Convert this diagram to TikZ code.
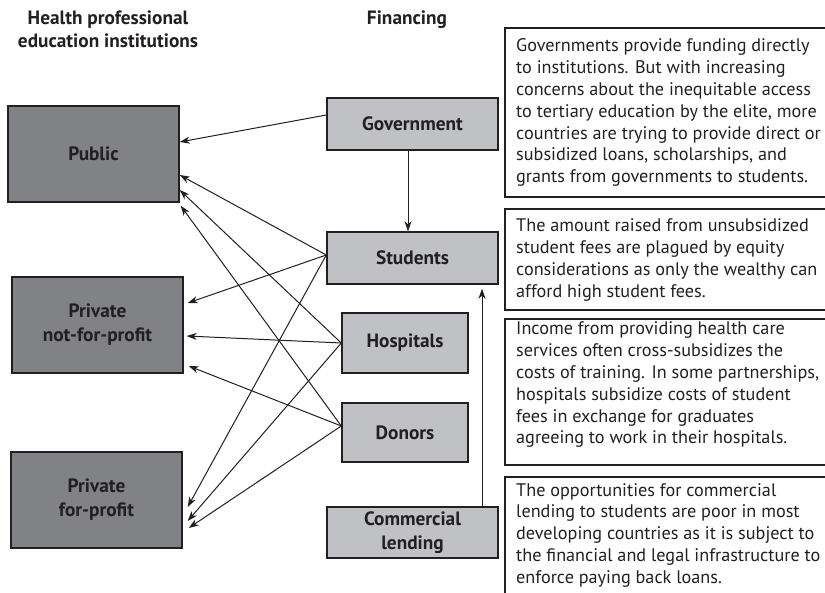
\documentclass[tikz,border=0pt]{standalone}
\usepackage{fontspec}
\setmainfont{PT Sans}
\usetikzlibrary{arrows.meta}
\definecolor{ink}{RGB}{35,31,32}
\definecolor{darkbox}{RGB}{128,130,133}
\definecolor{lightbox}{RGB}{192,193,196}
\begin{document}
\begin{tikzpicture}[x=1pt,y=-1pt,
  lab/.style={font=\fontsize{19.3}{24}\selectfont\bfseries, text=ink, align=center, inner sep=0pt},
  inst/.style={lab, draw=ink, line width=1.4pt, fill=darkbox, minimum width=171pt, minimum height=96pt},
  fin/.style={lab, draw=ink, line width=1.4pt, fill=lightbox, minimum width=171pt, minimum height=52pt},
  finsmall/.style={fin, minimum width=126pt, minimum height=60pt},
  head/.style={font=\fontsize{19.3}{23}\selectfont\bfseries, text=ink, align=center, inner sep=0pt, anchor=base},
  note/.style={font=\fontsize{18.2}{21.8}\selectfont, text=ink, align=left, anchor=base west, inner sep=0pt},
  frame/.style={draw=ink, line width=1.1pt},
  arr/.style={draw=ink, line width=1pt, -{Stealth[length=10pt,width=7pt,inset=3pt]}},
]
\useasboundingbox (0,0) rectangle (825,593);

% headers (anchor = baseline of last line)
\node[head] (h1) at (108,48) {Health professional\\education institutions};
\node[head] (h2) at (407,25) {Financing};

% institutions
\node[inst] (pub) at (93.5,154) {Public};
\node[inst] (pnfp) at (97.5,325) {Private\\not-for-profit};
\node[inst] (pfp) at (96.5,500) {Private\\for-profit};

% financing
\node[fin] (gov) at (412.5,124) {Government};
\node[fin] (stud) at (412.5,258) {Students};
\node[finsmall] (hosp) at (405,343) {Hospitals};
\node[finsmall, minimum height=59pt] (don) at (405,432.5) {Donors};
\node[fin, minimum height=51pt] (comm) at (412.5,532.5) {Commercial\\lending};

% arrows
\draw[arr] ([yshift=9pt]gov.west) -- ([yshift=12pt]pub.east);
\draw[arr] ([xshift=-4.5pt]gov.south) -- ([xshift=-4.5pt]stud.north);
\draw[arr] ([yshift=3pt]stud.west) -- ([yshift=-21pt]pub.east);
\draw[arr] ([yshift=3pt]stud.west) -- ([shift={(4pt,22pt)}]pnfp.east);
\draw[arr] ([yshift=3pt]stud.west) -- ([shift={(5pt,-7pt)}]pfp.east);
\draw[arr] (hosp.west) -- ([yshift=-36pt]pub.east);
\draw[arr] (hosp.west) -- ([shift={(3pt,-11pt)}]pnfp.east);
\draw[arr] (hosp.west) -- ([shift={(5pt,-21pt)}]pfp.east);
\draw[arr] ([yshift=6.5pt]don.west) -- ([shift={(1pt,-3pt)}]pub.south east);
\draw[arr] ([yshift=6.5pt]don.west) -- ([shift={(5pt,-41pt)}]pnfp.east);
\draw[arr] ([yshift=6.5pt]don.west) -- ([shift={(6pt,-28pt)}]pfp.east);
\draw[arr, shorten >=4pt] ([xshift=69.5pt]comm.north) -- ([xshift=69.5pt]stud.south);

% note frames
\draw[frame] (835,28) -- (505,28) -- (505,197) -- (835,197);
\draw[frame] (835,209) -- (505,209) -- (505,310) -- (835,310);
\draw[frame] (835,319) -- (505,319) -- (505,465) -- (835,465);
\draw[frame] (835,477) -- (505,477) -- (505,600);

% note texts (anchor = baseline of last line)
\node[note] (t1) at (516,182.8) {Governments provide funding directly\\to institutions. But with increasing\\concerns about the inequitable access\\to tertiary education by the elite, more\\countries are trying to provide direct or\\subsidized loans, scholarships, and\\grants from governments to students.};
\node[note] (t2) at (516,297.4) {The amount raised from unsubsidized\\student fees are plagued by equity\\considerations as only the wealthy can\\afford high student fees.};
\node[note] (t3) at (516,444) {Income from providing health care\\services often cross-subsidizes the\\costs of training. In some partnerships,\\hospitals subsidize costs of student\\fees in exchange for graduates\\agreeing to work in their hospitals.};
\node[note] (t4) at (516,583.2) {The opportunities for commercial\\lending to students are poor in most\\developing countries as it is subject to\\the financial and legal infrastructure to\\enforce paying back loans.};
\end{tikzpicture}
\end{document}
